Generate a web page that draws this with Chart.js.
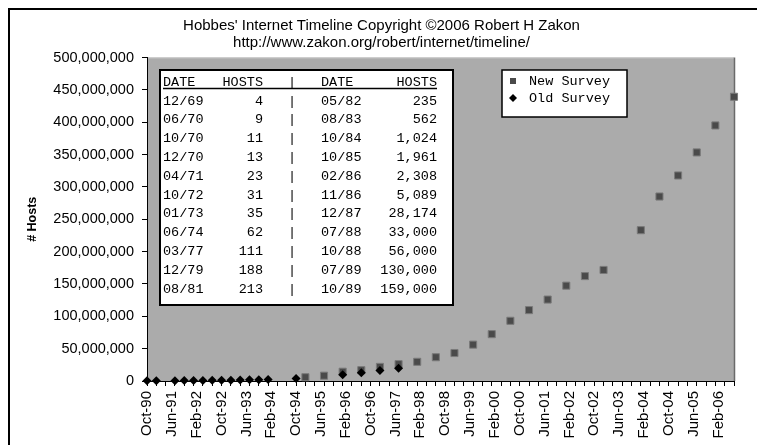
<!DOCTYPE html>
<html>
<head>
<meta charset="utf-8">
<script src="https://cdn.jsdelivr.net/npm/chart.js@4.4.0/dist/chart.umd.min.js"></script>
<style>
html, body { margin: 0; padding: 0; background: #fff; }
</style>
</head>
<body>
<canvas id="hostsChart" width="757" height="445"></canvas>
<script>
// survey data, dates as MM/YY
var newDates = ["01/95", "07/95", "01/96", "07/96", "01/97", "07/97", "01/98", "07/98", "01/99", "07/99",
    "01/00", "07/00", "01/01", "07/01", "01/02", "07/02", "01/03", "01/04", "07/04", "01/05", "07/05", "01/06", "07/06"];
var newHosts = [5846000, 8200000, 14352000, 16729000, 21819000, 26053000, 29670000, 36739000, 43230000, 56218000,
    72398000, 93048000, 109574000, 125888000, 147345000, 162128000, 171638000, 233101000, 285139000, 317646000, 353284000, 394992000, 439286000];

var oldDates = ["10/90", "01/91", "07/91", "10/91", "01/92", "04/92", "07/92", "10/92", "01/93", "04/93",
    "07/93", "10/93", "01/94", "10/94", "01/96", "07/96", "01/97", "07/97"];
var oldHosts = [313000, 376000, 535000, 617000, 727000, 890000, 992000, 1136000, 1313000, 1486000,
    1776000, 2056000, 2217000, 3864000, 9472000, 12881000, 16146000, 19540000];

// early history shown in the box
var tableDatesA = ["12/69", "06/70", "10/70", "12/70", "04/71", "10/72", "01/73", "06/74", "03/77", "12/79", "08/81"];
var tableHostsA = ["4", "9", "11", "13", "23", "31", "35", "62", "111", "188", "213"];
var tableDatesB = ["05/82", "08/83", "10/84", "10/85", "02/86", "11/86", "12/87", "07/88", "10/88", "07/89", "10/89"];
var tableHostsB = ["235", "562", "1,024", "1,961", "2,308", "5,089", "28,174", "33,000", "56,000", "130,000", "159,000"];

var yTicks = [0, 50000000, 100000000, 150000000, 200000000, 250000000, 300000000, 350000000, 400000000, 450000000, 500000000];
var monthNames = ["Jan", "Feb", "Mar", "Apr", "May", "Jun", "Jul", "Aug", "Sep", "Oct", "Nov", "Dec"];

function monthIndex(s) {
    var p = s.split("/");
    var yy = parseInt(p[1], 10);
    var year = yy < 50 ? 2000 + yy : 1900 + yy;
    return year * 12 + parseInt(p[0], 10) - 1;
}
function monthLabel(m) {
    var yy = Math.floor(m / 12) % 100;
    return monthNames[m % 12] + "-" + (yy < 10 ? "0" : "") + yy;
}
function toPoints(dates, vals) {
    return dates.map(function (d, i) { return { x: monthIndex(d), y: vals[i] }; });
}

var START = monthIndex("10/90");
var END = monthIndex("07/06");
var SANS = "'Liberation Sans', Arial, sans-serif";
var MONO = "'Liberation Mono', 'Courier New', monospace";

var framePlugin = {
    id: "frame",
    beforeDraw: function (chart) {
        var ctx = chart.ctx, a = chart.chartArea;
        ctx.save();
        ctx.fillStyle = "#fff";
        ctx.fillRect(0, 0, chart.width, chart.height);
        ctx.strokeStyle = "#000";
        ctx.lineWidth = 2;
        ctx.strokeRect(9, 9, chart.width + 20, chart.height + 20);
        ctx.fillStyle = "#ababab";
        ctx.fillRect(a.left, a.top, a.right - a.left, a.bottom - a.top);
        ctx.lineWidth = 1;
        ctx.strokeStyle = "#c4c4c4";
        ctx.beginPath();
        ctx.moveTo(a.left, a.top + 0.5);
        ctx.lineTo(a.right, a.top + 0.5);
        ctx.stroke();
        ctx.strokeStyle = "#6a6a6a";
        ctx.lineWidth = 1.5;
        ctx.beginPath();
        ctx.moveTo(a.right + 0.5, a.top);
        ctx.lineTo(a.right + 0.5, a.bottom);
        ctx.stroke();
        ctx.restore();
    }
};

var boxesPlugin = {
    id: "boxes",
    afterDraw: function (chart) {
        var ctx = chart.ctx;
        ctx.save();
        // table
        ctx.fillStyle = "#fff";
        ctx.fillRect(160, 70, 293, 235);
        ctx.strokeStyle = "#000";
        ctx.lineWidth = 2;
        ctx.strokeRect(160, 70, 293, 235);
        ctx.fillStyle = "#000";
        ctx.font = "13.5px " + MONO;
        ctx.textBaseline = "middle";
        function row(y, a, b, c, d) {
            ctx.textAlign = "left";
            ctx.fillText(a, 163, y);
            ctx.fillText(c, 321, y);
            ctx.textAlign = "right";
            ctx.fillText(b, 263, y);
            ctx.fillText(d, 437, y);
            ctx.textAlign = "center";
            ctx.fillText("|", 292, y);
        }
        row(82, "DATE", "HOSTS", "DATE", "HOSTS");
        ctx.lineWidth = 1.5;
        ctx.beginPath();
        ctx.moveTo(163, 88.5);
        ctx.lineTo(437, 88.5);
        ctx.stroke();
        for (var i = 0; i < tableDatesA.length; i++) {
            row(101 + i * 18.8, tableDatesA[i], tableHostsA[i], tableDatesB[i], tableHostsB[i]);
        }
        // legend
        ctx.fillStyle = "#fff";
        ctx.fillRect(502, 70, 125, 47);
        ctx.strokeStyle = "#000";
        ctx.lineWidth = 1.5;
        ctx.strokeRect(502, 70, 125, 47);
        var ds = chart.data.datasets;
        var legendOrder = [1, 0];
        legendOrder.forEach(function (k, j) {
            var y = 81 + j * 17;
            var d = ds[k];
            ctx.fillStyle = d.backgroundColor;
            if (d.pointStyle === "rect") {
                ctx.fillRect(510, y - 3, 6, 6);
            } else {
                ctx.beginPath();
                ctx.moveTo(513, y - 4);
                ctx.lineTo(517, y);
                ctx.lineTo(513, y + 4);
                ctx.lineTo(509, y);
                ctx.closePath();
                ctx.fill();
            }
            ctx.fillStyle = "#000";
            ctx.textAlign = "left";
            ctx.fillText(d.label, 529, y);
        });
        ctx.restore();
    }
};

new Chart(document.getElementById("hostsChart"), {
    type: "scatter",
    data: {
        datasets: [{
            label: "Old Survey",
            data: toPoints(oldDates, oldHosts),
            pointStyle: "rectRot",
            pointRadius: 4.5,
            backgroundColor: "#000",
            borderColor: "#000",
            borderWidth: 0,
            order: 1
        }, {
            label: "New Survey",
            data: toPoints(newDates, newHosts),
            pointStyle: "rect",
            pointRadius: 5,
            backgroundColor: "#4a4a4a",
            borderColor: "#7a7a7a",
            borderWidth: 1,
            order: 2
        }]
    },
    options: {
        responsive: false,
        animation: false,
        devicePixelRatio: 1,
        clip: false,
        layout: { padding: { left: 25, right: 19, top: 0, bottom: 0 } },
        plugins: {
            legend: { display: false },
            tooltip: { enabled: false },
            title: {
                display: true,
                text: ["Hobbes' Internet Timeline Copyright \u00a92006 Robert H Zakon", "http://www.zakon.org/robert/internet/timeline/"],
                color: "#000",
                font: { family: SANS, size: 15, weight: "normal", lineHeight: 1.15 },
                padding: { top: 17, bottom: 6 }
            }
        },
        scales: {
            x: {
                type: "linear",
                min: START,
                max: END,
                afterBuildTicks: function (scale) {
                    var t = [];
                    for (var m = START; m <= END; m++) {
                        if ((m - START) % 3 === 0 || (m - START) % 8 === 0) t.push({ value: m });
                    }
                    scale.ticks = t;
                },
                afterFit: function (scale) { scale.height = 64; },
                ticks: {
                    autoSkip: false,
                    minRotation: 90,
                    maxRotation: 90,
                    padding: 5,
                    color: "#000",
                    font: { family: SANS, size: 15 },
                    callback: function (v) { return (v - START) % 8 === 0 ? monthLabel(v) : ""; }
                },
                grid: {
                    drawOnChartArea: false,
                    tickLength: 5,
                    tickColor: function (c) {
                        return c.tick && (c.tick.value - START) % 3 === 0 ? "#000" : "rgba(0,0,0,0)";
                    }
                },
                border: { color: "#000", width: 1 }
            },
            y: {
                min: 0,
                max: 500000000,
                afterBuildTicks: function (scale) {
                    scale.ticks = yTicks.map(function (v) { return { value: v }; });
                },
                afterFit: function (scale) { scale.width = 122; },
                ticks: {
                    color: "#000",
                    padding: 8,
                    font: { family: SANS, size: 14.5 },
                    callback: function (v) { return v.toLocaleString("en-US"); }
                },
                grid: { drawOnChartArea: false, tickLength: 5, tickColor: "#000" },
                border: { color: "#000", width: 1 },
                title: {
                    display: true,
                    text: "# Hosts",
                    color: "#000",
                    padding: 0,
                    font: { family: SANS, size: 12.5, weight: "bold" }
                }
            }
        }
    },
    plugins: [framePlugin, boxesPlugin]
});
</script>
</body>
</html>
